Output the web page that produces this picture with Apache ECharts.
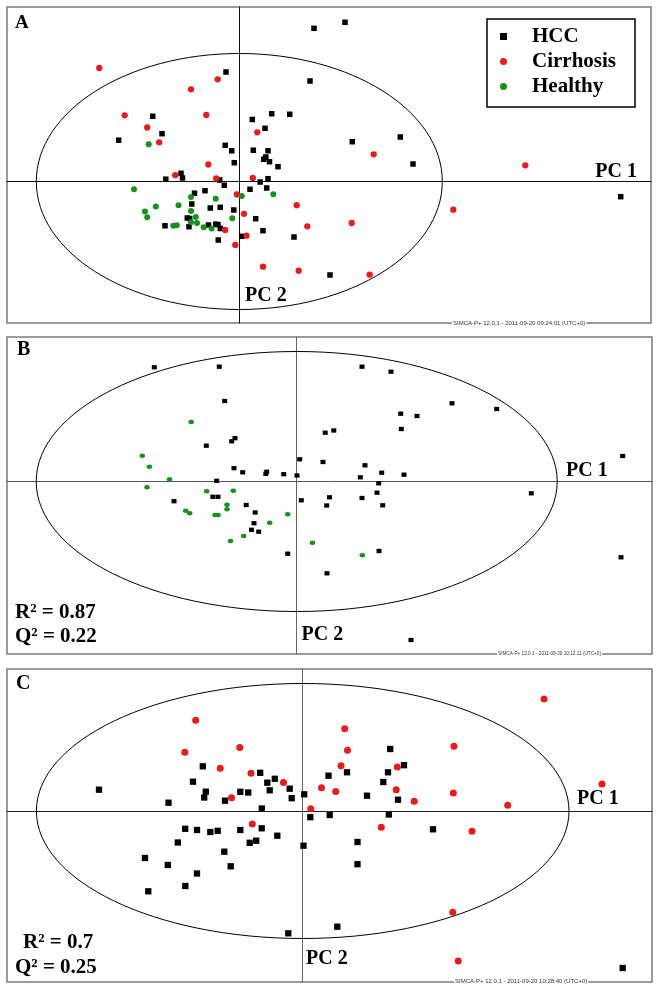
<!DOCTYPE html>
<html>
<head>
<meta charset="utf-8">
<script src="https://cdn.jsdelivr.net/npm/echarts@6/dist/echarts.min.js"></script>
<style>html,body{margin:0;padding:0;background:#fff;}#c{width:660px;height:990px;}</style>
</head>
<body>
<div id="c"></div>
<script>
// ---- Panel A scores [t1, t2] ----
var hccA = [[7.47,15.32],[-1.33,10.95],[7.07,10.05],[-8.66,6.52],[1.30,6.20],[3.24,6.78],[5.04,6.72],[2.57,5.32],[-7.73,4.78],[-12.06,4.13],[-1.41,3.62],[-0.76,3.07],[1.40,3.13],[2.87,3.07],[-0.50,1.88],[2.65,2.45],[2.45,2.22],[3.02,1.98],[3.87,1.48],[-5.83,0.82],[-7.35,0.23],[-5.68,0.35],[-1.96,0.15],[-1.50,-0.37],[2.09,-0.05],[2.87,0.28],[1.07,-0.78],[2.74,-0.65],[-3.43,-0.92],[-4.48,-1.17],[-4.75,-2.25],[-2.90,-2.65],[-1.91,-2.58],[-0.55,-2.85],[-5.20,-3.65],[-4.96,-3.70],[1.64,-3.72],[-7.43,-4.43],[-5.03,-4.52],[-3.08,-4.35],[-2.35,-4.27],[-2.13,-4.32],[-1.90,-4.70],[2.37,-4.92],[0.24,-5.48],[5.47,-5.55],[-2.10,-5.85],[9.07,-9.35],[10.57,15.92],[11.30,3.98],[16.10,4.45],[17.37,1.75],[38.14,-1.52]];
var cirA = [[-14.00,11.35],[-2.16,10.22],[-4.83,9.22],[-11.46,6.62],[-3.30,6.65],[-9.21,5.40],[-8.01,3.92],[1.80,4.92],[-3.10,1.70],[-6.41,0.63],[-2.31,0.30],[1.35,0.35],[-0.25,-1.30],[5.74,-2.37],[0.47,-3.23],[6.80,-4.48],[-1.41,-4.85],[0.72,-5.42],[-0.40,-6.35],[2.37,-8.52],[5.94,-8.92],[13.44,2.72],[28.60,1.62],[21.40,-2.82],[11.24,-4.15],[13.04,-9.32]];
var heaA = [[-9.06,3.73],[-10.53,-0.78],[3.40,-1.28],[0.25,-1.45],[-4.83,-1.55],[-2.36,-1.72],[-6.08,-2.37],[-8.35,-2.50],[-9.43,-3.00],[-4.83,-2.95],[-9.21,-3.58],[-4.35,-3.55],[-0.70,-3.68],[-4.83,-4.07],[-4.23,-4.15],[-6.60,-4.43],[-6.25,-4.38],[-3.56,-4.57],[-2.76,-4.70]];
// ---- Panel B scores ----
var hccB = [[-14.24,11.42],[-7.74,11.48],[-7.20,8.05],[2.85,4.88],[-6.50,4.02],[-6.17,4.33],[-9.04,3.58],[0.30,2.22],[2.63,1.95],[-6.27,1.33],[-5.40,0.92],[-3.09,0.77],[-3.00,0.97],[-1.30,0.73],[0.03,0.60],[-8.00,0.07],[-8.39,-1.53],[-7.87,-1.53],[3.28,-1.58],[-12.27,-1.97],[0.46,-1.88],[3.00,-2.40],[-5.05,-2.35],[-4.15,-3.10],[-4.27,-4.17],[-4.52,-4.83],[-3.80,-5.02],[-0.90,-7.22],[3.03,-9.18],[6.53,11.48],[9.43,10.98],[15.53,7.82],[20.00,7.25],[10.40,6.78],[12.03,6.55],[3.71,5.10],[10.46,5.25],[32.60,2.55],[6.83,1.62],[8.50,0.88],[10.73,0.68],[6.36,0.42],[8.20,-0.18],[8.03,-1.12],[23.46,-1.18],[6.53,-1.65],[8.60,-2.38],[8.23,-6.95],[32.43,-7.58],[11.43,-15.85]];
var heaB = [[-10.55,5.95],[-15.44,2.58],[-14.74,1.47],[-12.72,0.22],[-14.97,-0.58],[-9.00,-0.97],[-6.34,-0.93],[-6.97,-2.32],[-6.97,-2.77],[-11.10,-2.92],[-10.70,-3.18],[-8.17,-3.35],[-7.87,-3.35],[-0.90,-3.27],[-2.70,-4.12],[-5.30,-5.45],[-6.62,-5.95],[1.58,-6.13],[6.56,-7.38]];
// ---- Panel C scores ----
var hccC = [[-20.37,2.13],[-9.99,4.47],[-10.97,2.93],[-9.69,1.93],[-9.85,1.35],[-13.42,0.83],[-7.77,1.03],[-6.24,1.92],[-5.45,1.85],[-4.25,3.82],[-3.54,2.83],[-2.79,3.22],[-3.30,2.07],[-1.30,2.23],[-1.10,1.28],[0.15,1.67],[-4.09,0.25],[2.58,3.53],[0.76,-0.62],[2.70,-0.40],[-11.75,-1.78],[-10.57,-1.90],[-9.24,-2.10],[-8.50,-1.98],[-6.24,-1.90],[-4.10,-1.73],[-12.49,-3.15],[-5.30,-3.18],[-4.65,-2.97],[-2.54,-2.47],[0.08,-3.47],[-7.84,-4.07],[-15.77,-4.70],[-13.49,-5.40],[-7.20,-5.53],[-10.57,-6.25],[-11.74,-7.50],[-15.44,-8.03],[-1.44,-12.23],[4.43,3.87],[8.75,6.20],[10.13,4.58],[8.53,3.87],[8.06,2.90],[6.43,1.53],[9.53,1.13],[8.61,-0.35],[13.03,-1.83],[5.48,-3.10],[5.48,-5.32],[3.46,-11.57],[32.00,-15.70]];
var cirC = [[-10.70,9.07],[-11.79,5.88],[-6.29,6.35],[-8.25,4.27],[-5.17,3.77],[-1.92,2.85],[1.88,2.33],[-7.12,1.33],[0.81,0.23],[-5.04,-1.30],[24.13,11.20],[4.20,8.23],[4.48,6.07],[15.13,6.47],[3.83,4.53],[9.46,4.40],[3.30,1.95],[9.35,2.12],[15.06,1.80],[11.15,0.97],[20.50,0.57],[29.93,2.70],[7.86,-1.63],[16.93,-2.03],[15.00,-10.13],[15.56,-15.00]];
// ---- Hotelling ellipses [cx, cy, a, b] ----
var ellA = [0, 0, 20.3, 12.8];
var ellB = [0, 0, 26.05, 13.0];
var ellC = [0, 0, 26.63, 12.75];
// ---- axis ranges [xmin, xmax, ymin, ymax] ----
var rangeA = [-23.23, 41.17, -14.15, 17.45];
var rangeB = [-28.97, 35.53, -17.25, 14.45];
var rangeC = [-29.57, 34.93, -17.1, 14.2];
var groups = ['HCC', 'Cirrhosis', 'Healthy'];

var RED = '#ec1a1a', GREEN = '#16921a', BLACK = '#000000';
var serif = '"Liberation Serif", "Times New Roman", serif';

var chart = echarts.init(document.getElementById('c'), null, {renderer: 'canvas'});

function axes(range, hColor, vColor, gi) {
  return {
    x: {type: 'value', gridIndex: gi, min: range[0], max: range[1], axisLine: {show: true, onZero: true, lineStyle: {color: hColor, width: 1}}, axisTick: {show: false}, axisLabel: {show: false}, splitLine: {show: false}},
    y: {type: 'value', gridIndex: gi, min: range[2], max: range[3], axisLine: {show: true, onZero: true, lineStyle: {color: vColor, width: 1}}, axisTick: {show: false}, axisLabel: {show: false}, splitLine: {show: false}}
  };
}
var aA = axes(rangeA, '#111', '#111', 0);
var aB = axes(rangeB, '#555', '#666', 1);
var aC = axes(rangeC, '#222', '#666', 2);

function ellipseSeries(idx, e) {
  return {
    type: 'custom', xAxisIndex: idx, yAxisIndex: idx, silent: true, z: 1,
    data: [e],
    renderItem: function (params, api) {
      var c = api.coord([api.value(0), api.value(1)]);
      var p = api.coord([api.value(0) + api.value(2), api.value(1) + api.value(3)]);
      return {type: 'ellipse', shape: {cx: c[0], cy: c[1], rx: Math.abs(p[0] - c[0]), ry: Math.abs(p[1] - c[1])},
        style: {fill: 'none', stroke: '#000', lineWidth: 1}};
    }
  };
}
function sc(name, idx, data, symbol, size, color) {
  return {name: name, type: 'scatter', xAxisIndex: idx, yAxisIndex: idx, data: data, symbol: symbol, symbolSize: size,
    itemStyle: {color: color, opacity: 1}, z: 3, silent: true, animation: false};
}
function txt(x, y, s, size, align) {
  return {type: 'text', x: x, y: y, silent: true, z: 100,
    style: {text: s, font: 'bold ' + size + 'px ' + serif, fill: '#000', align: align || 'left', verticalAlign: 'middle', textAlign: align || 'left', textVerticalAlign: 'middle'}};
}
function stamp(x, y, s, size) {
  return {type: 'text', x: x, y: y, silent: true, z: 100,
    style: {text: s, font: size + 'px "Liberation Sans", Arial, sans-serif', fill: '#333', align: 'left', verticalAlign: 'middle', textAlign: 'left', textVerticalAlign: 'middle', backgroundColor: '#fff', padding: [1, 1]}};
}

var option = {
  animation: false,
  backgroundColor: '#fff',
  grid: [
    {left: 7, top: 7, width: 644, height: 316, show: true, borderColor: '#7a7a7a', borderWidth: 1.5, containLabel: false},
    {left: 7, top: 337, width: 645, height: 317, show: true, borderColor: '#7a7a7a', borderWidth: 1.5, containLabel: false},
    {left: 7, top: 669, width: 645, height: 313, show: true, borderColor: '#7a7a7a', borderWidth: 1.5, containLabel: false}
  ],
  xAxis: [aA.x, aB.x, aC.x],
  yAxis: [aA.y, aB.y, aC.y],
  legend: {
    data: [{name: groups[0], icon: 'rect'}, {name: groups[1], icon: 'circle'}, {name: groups[2], icon: 'circle'}],
    orient: 'vertical', left: 487, top: 19, selectedMode: false,
    itemWidth: 7, itemHeight: 7, itemGap: 0,
    padding: [5, 19, 8, 13],
    borderColor: '#000', borderWidth: 1.5, backgroundColor: '#fff',
    formatter: '{s| }{name}',
    textStyle: {fontFamily: serif, fontWeight: 'bold', fontSize: 21, color: '#000', lineHeight: 25,
      rich: {s: {width: 20, fontSize: 21, lineHeight: 25}}}
  },
  series: [
    ellipseSeries(0, ellA), ellipseSeries(1, ellB), ellipseSeries(2, ellC),
    sc(groups[0], 0, hccA, 'rect', 5.5, BLACK),
    sc(groups[1], 0, cirA, 'circle', 6.3, RED),
    sc(groups[2], 0, heaA, 'circle', 6, GREEN),
    sc(groups[0], 1, hccB, 'rect', [5, 4.3], BLACK),
    sc(groups[2], 1, heaB, 'circle', [5.5, 4.5], GREEN),
    sc(groups[0], 2, hccC, 'rect', 6.3, BLACK),
    sc(groups[1], 2, cirC, 'circle', 7, RED)
  ],
  graphic: [
    txt(15, 23.5, 'A', 19),
    txt(637, 172, 'PC 1', 20, 'right'),
    txt(245, 296, 'PC 2', 20),
    stamp(452, 323.5, 'SIMCA-P+ 12.0.1 - 2011-09-20 09:24:01 (UTC+0)', 6),
    txt(17, 350, 'B', 20),
    txt(566, 471, 'PC 1', 20),
    txt(301.5, 635, 'PC 2', 20),
    txt(15, 612.5, 'R\u00b2 = 0.87', 21),
    txt(15, 637, 'Q\u00b2 = 0.22', 21),
    stamp(497, 654, 'SIMCA-P+ 12.0.1 - 2011-09-20 10:12:11 (UTC+0)', 4.7),
    txt(16, 684, 'C', 20),
    txt(577, 799, 'PC 1', 20),
    txt(306, 959, 'PC 2', 20),
    txt(23, 942.5, 'R\u00b2 = 0.7', 21),
    txt(15, 967.5, 'Q\u00b2 = 0.25', 21),
    stamp(454, 981.5, 'SIMCA-P+ 12.0.1 - 2011-09-20 10:28:40 (UTC+0)', 6)
  ]
};
chart.setOption(option);
</script>
</body>
</html>
